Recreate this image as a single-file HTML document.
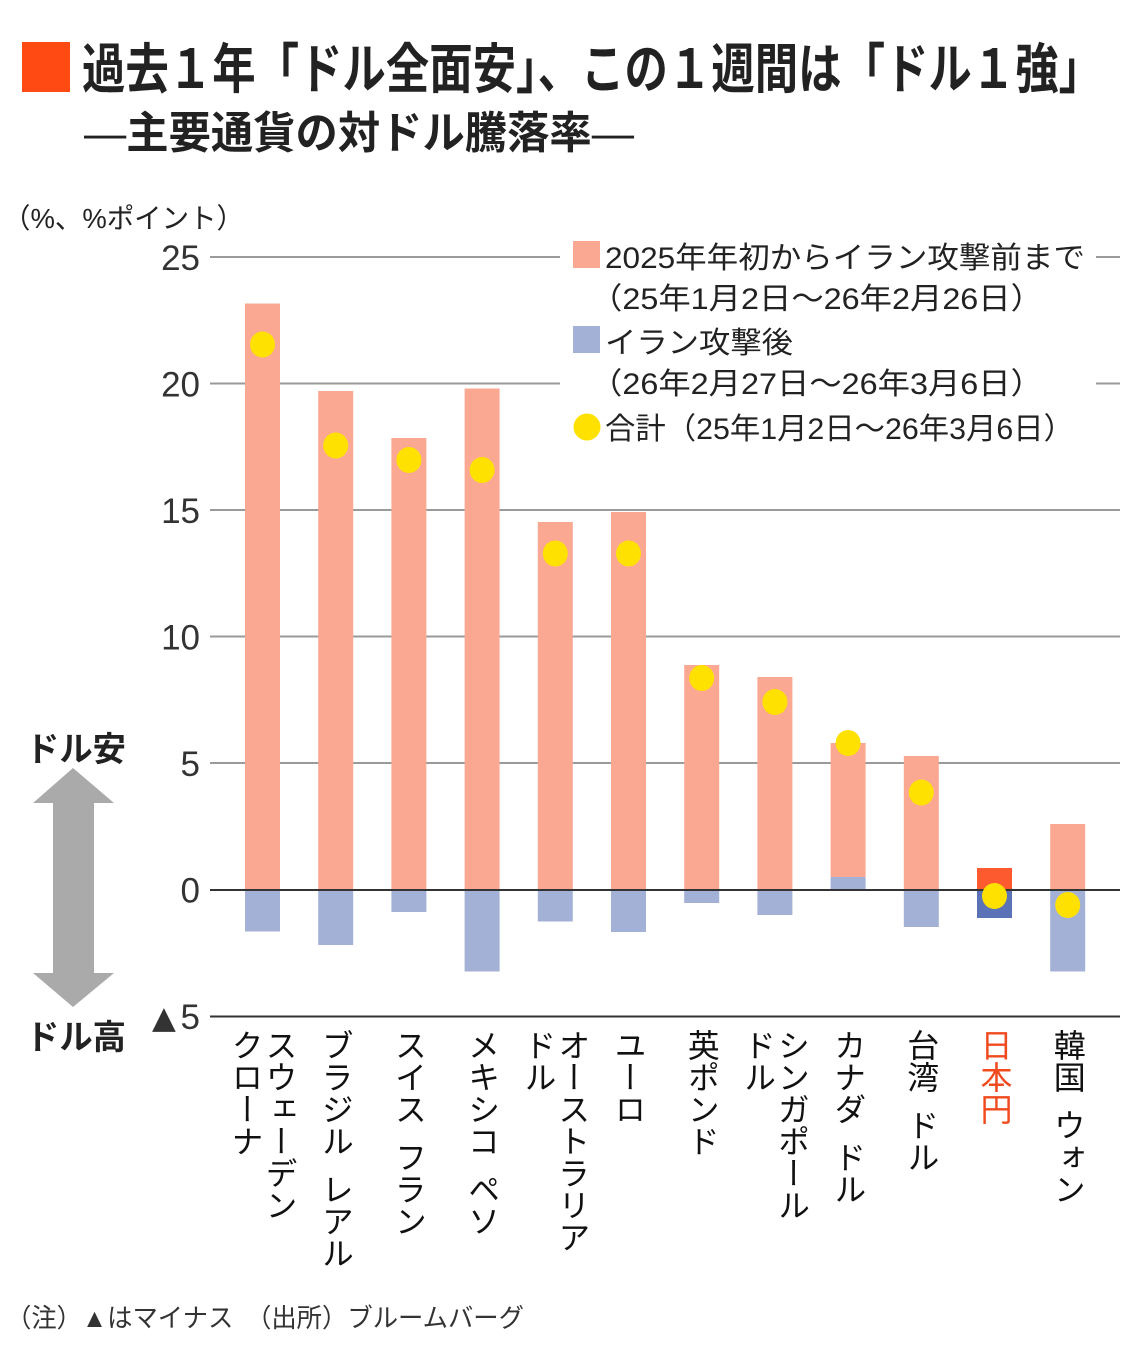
<!DOCTYPE html>
<html><head><meta charset="utf-8">
<style>
html,body{margin:0;padding:0;background:#fff;}
#wrap{position:relative;width:1140px;height:1350px;overflow:hidden;background:#fff;}
svg{position:absolute;left:0;top:0;}
.xl{position:absolute;top:1029px;writing-mode:vertical-rl;font-size:32px;line-height:34px;font-family:"Liberation Sans","Noto Sans CJK JP",sans-serif;color:#111;white-space:nowrap;}
.g{font-size:16px;}
</style></head>
<body><div id="wrap">
<svg width="1140" height="1350" viewBox="0 0 1140 1350" xmlns="http://www.w3.org/2000/svg">
<rect x="22" y="42" width="48" height="50" fill="#ff4a14"/>
<text x="82" y="88" font-family="Liberation Sans, Noto Sans CJK JP, sans-serif" font-weight="700" font-size="54" fill="#222" textLength="1020" lengthAdjust="spacingAndGlyphs">過去１年「ドル全面安」、この１週間は「ドル１強」</text>
<text x="84" y="148" font-family="Liberation Sans, Noto Sans CJK JP, sans-serif" font-weight="700" font-size="44" fill="#222" textLength="550" lengthAdjust="spacingAndGlyphs"><tspan font-weight="400">―</tspan>主要通貨の対ドル騰落率<tspan font-weight="400">―</tspan></text>
<text x="3" y="228" font-family="Liberation Sans, Noto Sans CJK JP, sans-serif" font-size="28" fill="#222" textLength="241" lengthAdjust="spacingAndGlyphs">（%、%ポイント）</text>

<!-- gridlines -->
<g stroke="#9a9a9a" stroke-width="2">
<line x1="210" y1="257" x2="1120" y2="257"/>
<line x1="210" y1="383.5" x2="1120" y2="383.5"/>
<line x1="210" y1="510" x2="1120" y2="510"/>
<line x1="210" y1="636.5" x2="1120" y2="636.5"/>
<line x1="210" y1="763" x2="1120" y2="763"/>
</g>
<line x1="210" y1="1016.5" x2="1120" y2="1016.5" stroke="#333" stroke-width="2"/>

<!-- y labels -->
<g font-family="Liberation Sans, sans-serif" font-size="35" fill="#333" text-anchor="end">
<text x="200" y="270">25</text>
<text x="200" y="396.5">20</text>
<text x="200" y="523">15</text>
<text x="200" y="649.5">10</text>
<text x="200" y="776">5</text>
<text x="200" y="902.5">0</text>
<text x="200" y="1029">5</text>
</g>
<text x="152" y="1028" font-family="DejaVu Sans, sans-serif" font-size="31" fill="#333">▲</text>

<!-- bars -->
<g>
<rect x="245" y="303.5" width="35" height="586.5" fill="#fba893"/>
<rect x="245" y="890" width="35" height="41.5" fill="#a3b1d6"/>
<rect x="318.2" y="391" width="35" height="499" fill="#fba893"/>
<rect x="318.2" y="890" width="35" height="55" fill="#a3b1d6"/>
<rect x="391.4" y="438" width="35" height="452" fill="#fba893"/>
<rect x="391.4" y="890" width="35" height="22" fill="#a3b1d6"/>
<rect x="464.6" y="388.5" width="35" height="501.5" fill="#fba893"/>
<rect x="464.6" y="890" width="35" height="81.5" fill="#a3b1d6"/>
<rect x="537.8" y="522" width="35" height="368" fill="#fba893"/>
<rect x="537.8" y="890" width="35" height="31.5" fill="#a3b1d6"/>
<rect x="611" y="512" width="35" height="378" fill="#fba893"/>
<rect x="611" y="890" width="35" height="42" fill="#a3b1d6"/>
<rect x="684.2" y="665" width="35" height="225" fill="#fba893"/>
<rect x="684.2" y="890" width="35" height="13" fill="#a3b1d6"/>
<rect x="757.4" y="677" width="35" height="213" fill="#fba893"/>
<rect x="757.4" y="890" width="35" height="25" fill="#a3b1d6"/>
<rect x="830.6" y="743" width="35" height="134" fill="#fba893"/>
<rect x="830.6" y="877" width="35" height="13" fill="#a3b1d6"/>
<rect x="903.8" y="756" width="35" height="134" fill="#fba893"/>
<rect x="903.8" y="890" width="35" height="37" fill="#a3b1d6"/>
<rect x="977" y="868" width="35" height="22" fill="#fe5a2f"/>
<rect x="977" y="890" width="35" height="28" fill="#5b72b7"/>
<rect x="1050.2" y="824" width="35" height="66" fill="#fba893"/>
<rect x="1050.2" y="890" width="35" height="81.5" fill="#a3b1d6"/>
</g>
<line x1="210" y1="890" x2="1120" y2="890" stroke="#333" stroke-width="2"/>

<!-- dots -->
<g fill="#ffe100">
<ellipse cx="262.5" cy="344.5" rx="12.5" ry="13"/>
<ellipse cx="335.7" cy="445.5" rx="12.5" ry="13"/>
<ellipse cx="408.9" cy="460" rx="12.5" ry="13"/>
<ellipse cx="482.1" cy="470" rx="12.5" ry="13"/>
<ellipse cx="555.3" cy="553.5" rx="12.5" ry="13"/>
<ellipse cx="628.5" cy="553.5" rx="12.5" ry="13"/>
<ellipse cx="701.7" cy="678" rx="12.5" ry="13"/>
<ellipse cx="774.9" cy="702" rx="12.5" ry="13"/>
<ellipse cx="848.1" cy="743" rx="12.5" ry="13"/>
<ellipse cx="921.3" cy="792.5" rx="12.5" ry="13"/>
<ellipse cx="994.5" cy="896" rx="12.5" ry="13"/>
<ellipse cx="1067.7" cy="905" rx="12.5" ry="13"/>
</g>

<!-- legend -->
<rect x="560" y="235" width="536" height="213" fill="#fff"/>
<rect x="573" y="241" width="27" height="27" fill="#fba893"/>
<rect x="573" y="326" width="27" height="27" fill="#a3b1d6"/>
<circle cx="587" cy="427" r="13.5" fill="#ffe100"/>
<g font-family="Liberation Sans, Noto Sans CJK JP, sans-serif" font-size="30" fill="#222">
<text x="605" y="268" textLength="480" lengthAdjust="spacingAndGlyphs">2025年年初からイラン攻撃前まで</text>
<text x="590" y="309" textLength="453" lengthAdjust="spacingAndGlyphs">（25年1月2日～26年2月26日）</text>
<text x="605" y="353" textLength="188" lengthAdjust="spacingAndGlyphs">イラン攻撃後</text>
<text x="590" y="394" textLength="453" lengthAdjust="spacingAndGlyphs">（26年2月27日～26年3月6日）</text>
<text x="605" y="439" textLength="469" lengthAdjust="spacingAndGlyphs">合計（25年1月2日～26年3月6日）</text>
</g>

<!-- arrow -->
<polygon points="73,768 114,803 94,803 94,973 114,973 73,1007 33,973 53,973 53,803 33,803" fill="#aaaaaa"/>
<text x="26" y="761" font-family="Liberation Sans, Noto Sans CJK JP, sans-serif" font-weight="700" font-size="34" fill="#222" textLength="100" lengthAdjust="spacingAndGlyphs">ドル安</text>
<text x="26" y="1049" font-family="Liberation Sans, Noto Sans CJK JP, sans-serif" font-weight="700" font-size="34" fill="#222" textLength="100" lengthAdjust="spacingAndGlyphs">ドル高</text>

<!-- footer -->
<text x="6" y="1327" font-family="Liberation Sans, Noto Sans CJK JP, sans-serif" font-size="26" fill="#333" textLength="518" lengthAdjust="spacingAndGlyphs">（注）▲はマイナス　（出所）ブルームバーグ</text>
</svg>

<div class="xl" style="left:228.5px;">スウェーデン<br>クローナ</div>
<div class="xl" style="left:318.7px;">ブラジル<span class="g">　</span>レアル</div>
<div class="xl" style="left:391.9px;">スイス<span class="g">　</span>フラン</div>
<div class="xl" style="left:465.1px;">メキシコ<span class="g">　</span>ペソ</div>
<div class="xl" style="left:521.3px;">オーストラリア<br>ドル</div>
<div class="xl" style="left:611.5px;">ユーロ</div>
<div class="xl" style="left:684.7px;">英ポンド</div>
<div class="xl" style="left:740.9px;">シンガポール<br>ドル</div>
<div class="xl" style="left:831.1px;">カナダ<span class="g">　</span>ドル</div>
<div class="xl" style="left:904.3px;">台湾<span class="g">　</span>ドル</div>
<div class="xl" style="left:977.5px;color:#f04a1f;">日本円</div>
<div class="xl" style="left:1050.7px;">韓国<span class="g">　</span>ウォン</div>
</div></body></html>
